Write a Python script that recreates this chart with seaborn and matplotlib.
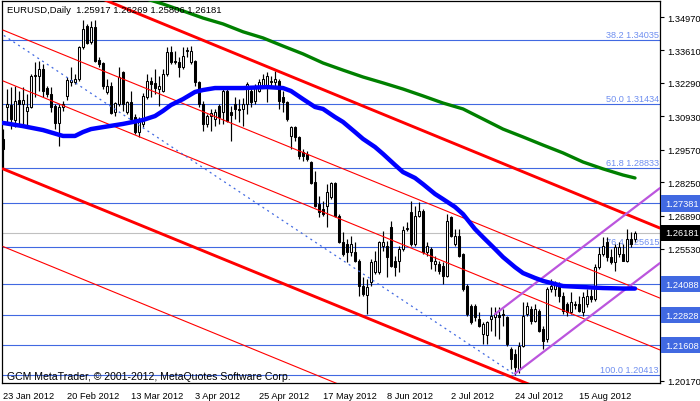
import numpy as np
import pandas as pd
import matplotlib
matplotlib.use("Agg")
import matplotlib.pyplot as plt
import matplotlib.transforms as mtransforms
import seaborn as sns

# ---------------------------------------------------------
#                 DATA
# ---------------------------------------------------------

# daily EURUSD candles, bar 0 = 23 Jan 2012
bar_open = [
    1.3001, 1.3131, 1.3139, 1.3078, 1.3159, 1.3143, 1.3115, 1.3131, 1.3257, 1.3257,
    1.3286, 1.3208, 1.3184, 1.3135, 1.3066, 1.3131, 1.3176, 1.3233, 1.3233, 1.3245,
    1.3375, 1.3460, 1.3395, 1.3456, 1.3322, 1.3310, 1.3192, 1.3216, 1.3111, 1.3143,
    1.3273, 1.3111, 1.3151, 1.3090, 1.3029, 1.3062, 1.3172, 1.3237, 1.3229, 1.3204,
    1.3196, 1.3265, 1.3355, 1.3318, 1.3314, 1.3294, 1.3359, 1.3314, 1.3318, 1.3233,
    1.3143, 1.3062, 1.3094, 1.3082, 1.3135, 1.3111, 1.3196, 1.3111, 1.3143, 1.3123,
    1.3123, 1.3143, 1.3196, 1.3155, 1.3196, 1.3216, 1.3216, 1.3233, 1.3233, 1.3237,
    1.3172, 1.3151, 1.3013, 1.3049, 1.3009, 1.2948, 1.2940, 1.2907, 1.2826, 1.2736,
    1.2716, 1.2728, 1.2765, 1.2822, 1.2687, 1.2581, 1.2573, 1.2541, 1.2541, 1.2504,
    1.2402, 1.2366, 1.2419, 1.2459, 1.2459, 1.2565, 1.2565, 1.2642, 1.2504, 1.2504,
    1.2553, 1.2634, 1.2703, 1.2573, 1.2687, 1.2708, 1.2541, 1.2553, 1.2492, 1.2492,
    1.2484, 1.2443, 1.2683, 1.2573, 1.2606, 1.2532, 1.2402, 1.2321, 1.2321, 1.2268,
    1.2207, 1.2203, 1.2268, 1.2276, 1.2284, 1.2288, 1.2276, 1.2146, 1.2126, 1.2065,
    1.2158, 1.2288, 1.2309, 1.2260, 1.2301, 1.2227, 1.2186, 1.2390, 1.2390, 1.2402,
    1.2362, 1.2329, 1.2297, 1.2329, 1.2329, 1.2297, 1.2329, 1.2362, 1.2349, 1.2479,
    1.2532, 1.2581, 1.2520, 1.2500, 1.2532, 1.2532, 1.2504, 1.2594, 1.25917,
]
bar_high = [
    1.3041, 1.3204, 1.3212, 1.3216, 1.3196, 1.3212, 1.3184, 1.3265, 1.3314, 1.3318,
    1.3306, 1.3216, 1.3212, 1.3143, 1.3143, 1.3155, 1.3253, 1.3294, 1.3265, 1.3379,
    1.3485, 1.3469, 1.3481, 1.3485, 1.3334, 1.3314, 1.3245, 1.3233, 1.3151, 1.3294,
    1.3277, 1.3155, 1.3196, 1.3102, 1.3090, 1.3188, 1.3265, 1.3253, 1.3286, 1.3257,
    1.3286, 1.3375, 1.3379, 1.3359, 1.3334, 1.3375, 1.3375, 1.3379, 1.3322, 1.3237,
    1.3155, 1.3102, 1.3123, 1.3123, 1.3143, 1.3212, 1.3204, 1.3135, 1.3172, 1.3163,
    1.3168, 1.3233, 1.3216, 1.3224, 1.3245, 1.3265, 1.3273, 1.3257, 1.3277, 1.3245,
    1.3196, 1.3155, 1.3053, 1.3053, 1.3013, 1.2960, 1.2952, 1.2910, 1.2870, 1.2769,
    1.2748, 1.2817, 1.2826, 1.2826, 1.2695, 1.2622, 1.2594, 1.2606, 1.2581, 1.2512,
    1.2439, 1.2431, 1.2512, 1.2545, 1.2585, 1.2626, 1.2585, 1.2667, 1.2524, 1.2565,
    1.2646, 1.2663, 1.2748, 1.2728, 1.2744, 1.2716, 1.2581, 1.2561, 1.2524, 1.2504,
    1.2500, 1.2695, 1.2687, 1.2634, 1.2634, 1.2536, 1.2410, 1.2329, 1.2329, 1.2297,
    1.2256, 1.2260, 1.2317, 1.2317, 1.2317, 1.2309, 1.2280, 1.2154, 1.2146, 1.2174,
    1.2337, 1.2337, 1.2321, 1.2329, 1.2309, 1.2240, 1.2398, 1.2431, 1.2423, 1.2419,
    1.2378, 1.2337, 1.2378, 1.2341, 1.2362, 1.2378, 1.2390, 1.2390, 1.2492, 1.2561,
    1.2601, 1.2601, 1.2553, 1.2573, 1.2581, 1.2573, 1.2634, 1.2622, 1.26269,
]
bar_low = [
    1.2879, 1.3062, 1.3041, 1.3049, 1.3062, 1.3062, 1.3053, 1.3127, 1.3172, 1.3196,
    1.3172, 1.3172, 1.3111, 1.3041, 1.2972, 1.3115, 1.3159, 1.3216, 1.3224, 1.3237,
    1.3367, 1.3387, 1.3387, 1.3314, 1.3294, 1.3204, 1.3184, 1.3102, 1.3094, 1.3135,
    1.3115, 1.3102, 1.3070, 1.3021, 1.3009, 1.3049, 1.3163, 1.3172, 1.3184, 1.3135,
    1.3192, 1.3257, 1.3306, 1.3306, 1.3253, 1.3286, 1.3334, 1.3306, 1.3216, 1.3131,
    1.3033, 1.3049, 1.3033, 1.3053, 1.3062, 1.3062, 1.3070, 1.2992, 1.3082, 1.3070,
    1.3053, 1.3102, 1.3131, 1.3143, 1.3192, 1.3212, 1.3151, 1.3212, 1.3216, 1.3123,
    1.3111, 1.3074, 1.2960, 1.2992, 1.2919, 1.2911, 1.2911, 1.2817, 1.2724, 1.2683,
    1.2687, 1.2642, 1.2756, 1.2683, 1.2577, 1.2524, 1.2500, 1.2524, 1.2500, 1.2362,
    1.2362, 1.2288, 1.2402, 1.2451, 1.2451, 1.2545, 1.2439, 1.2479, 1.2443, 1.2459,
    1.2545, 1.2626, 1.2565, 1.2565, 1.2683, 1.2532, 1.2524, 1.2471, 1.2463, 1.2451,
    1.2410, 1.2439, 1.2601, 1.2565, 1.2520, 1.2382, 1.2280, 1.2248, 1.2260, 1.2236,
    1.2166, 1.2166, 1.2219, 1.2199, 1.2186, 1.2240, 1.2158, 1.2065, 1.2041, 1.2050,
    1.2154, 1.2280, 1.2248, 1.2256, 1.2215, 1.2146, 1.2174, 1.2378, 1.2362, 1.2337,
    1.2288, 1.2280, 1.2288, 1.2309, 1.2297, 1.2280, 1.2317, 1.2337, 1.2341, 1.2471,
    1.2524, 1.2504, 1.2492, 1.2463, 1.2520, 1.2504, 1.2500, 1.2561, 1.25806,
]
bar_close = [
    1.2960, 1.3143, 1.3082, 1.3155, 1.3143, 1.3159, 1.3131, 1.3257, 1.3261, 1.3286,
    1.3196, 1.3184, 1.3131, 1.3066, 1.3131, 1.3143, 1.3241, 1.3241, 1.3245, 1.3375,
    1.3448, 1.3391, 1.3456, 1.3318, 1.3306, 1.3216, 1.3216, 1.3106, 1.3147, 1.3253,
    1.3143, 1.3151, 1.3082, 1.3029, 1.3070, 1.3176, 1.3237, 1.3224, 1.3208, 1.3216,
    1.3265, 1.3355, 1.3314, 1.3314, 1.3294, 1.3338, 1.3363, 1.3359, 1.3233, 1.3143,
    1.3062, 1.3094, 1.3106, 1.3111, 1.3090, 1.3196, 1.3074, 1.3098, 1.3123, 1.3119,
    1.3143, 1.3224, 1.3151, 1.3216, 1.3233, 1.3245, 1.3257, 1.3237, 1.3245, 1.3155,
    1.3151, 1.3082, 1.3049, 1.3009, 1.2931, 1.2931, 1.2919, 1.2822, 1.2728, 1.2703,
    1.2695, 1.2785, 1.2822, 1.2687, 1.2581, 1.2532, 1.2541, 1.2573, 1.2504, 1.2402,
    1.2370, 1.2398, 1.2500, 1.2504, 1.2581, 1.2581, 1.2520, 1.2484, 1.2479, 1.2553,
    1.2630, 1.2638, 1.2573, 1.2687, 1.2708, 1.2541, 1.2565, 1.2504, 1.2504, 1.2463,
    1.2443, 1.2667, 1.2606, 1.2606, 1.2524, 1.2390, 1.2288, 1.2256, 1.2276, 1.2240,
    1.2248, 1.2256, 1.2280, 1.2288, 1.2276, 1.2284, 1.2166, 1.2105, 1.2073, 1.2158,
    1.2280, 1.2321, 1.2260, 1.2309, 1.2219, 1.2178, 1.2390, 1.2402, 1.2410, 1.2362,
    1.2301, 1.2297, 1.2337, 1.2325, 1.2301, 1.2358, 1.2362, 1.2349, 1.2479, 1.2532,
    1.2565, 1.2520, 1.2500, 1.2561, 1.2561, 1.2504, 1.2594, 1.2573, 1.26181,
]

# moving averages, sampled along the bars
blue_ma_bars = [0, 5, 10, 15, 18, 20, 22, 25, 30, 35, 38, 40, 42, 45, 48, 50, 53, 60, 66,
                70, 72, 75, 78, 80, 83, 85, 88, 90, 93, 95, 98, 100, 103, 105, 108, 110,
                113, 115, 118, 120, 123, 125, 128, 130, 133, 135, 140, 145, 150, 155, 158]
blue_ma_vals = [1.3066, 1.3053, 1.3037, 1.3013, 1.3013, 1.3029, 1.3041, 1.3049, 1.3062,
                1.3078, 1.3094, 1.3115, 1.3139, 1.3163, 1.3192, 1.3200, 1.3208, 1.3208,
                1.3212, 1.3208, 1.3196, 1.3163, 1.3131, 1.3123, 1.3090, 1.3070, 1.3029,
                1.3001, 1.2968, 1.2940, 1.2895, 1.2866, 1.2842, 1.2817, 1.2777, 1.2756,
                1.2724, 1.2695, 1.2634, 1.2601, 1.2553, 1.2520, 1.2479, 1.2455, 1.2435,
                1.2423, 1.2402, 1.2398, 1.2394, 1.2392, 1.2392]
green_ma_bars = [36, 40, 45, 50, 55, 60, 65, 70, 75, 80, 85, 90, 95, 100, 105, 110, 115,
                 120, 125, 130, 135, 140, 145, 150, 155, 158]
green_ma_vals = [1.3570, 1.3550, 1.3522, 1.3493, 1.3469, 1.3437, 1.3412, 1.3379, 1.3347,
                 1.3310, 1.3281, 1.3253, 1.3229, 1.3204, 1.3176, 1.3147, 1.3123, 1.3082,
                 1.3041, 1.3009, 1.2976, 1.2944, 1.2907, 1.2879, 1.2854, 1.2842]

# drawn objects: (start bar, start price, end bar, end price)
red_thick_lines = [(0, 1.3737, 164.25, 1.2638), (0, 1.2879, 164.25, 1.1784)]
red_thin_lines = [(0, 1.3444, 164.25, 1.2353), (0, 1.3237, 164.25, 1.2142),
                  (0, 1.2563, 164.25, 1.1466)]
fib_diagonal = (-76, 1.42455, 128, 1.20413)
purple_lines = [(128, 1.2046, 164.25, 1.2496), (123, 1.2288, 164.25, 1.2801)]

fib_levels = [38.2, 50.0, 61.8, 76.4, 100.0]
fib_prices = [1.34035, 1.31434, 1.28833, 1.25615, 1.20413]
hline_prices = [1.27381, 1.24088, 1.22828, 1.21608]
last_price = 1.26181

price_ticks = [1.20170, 1.25530, 1.26890, 1.28250, 1.29570, 1.30930, 1.32290, 1.33610, 1.34970]
date_tick_bars = [0, 16, 32, 48, 64, 80, 96, 112, 128, 144]
date_tick_labels = ["23 Jan 2012", "20 Feb 2012", "13 Mar 2012", "3 Apr 2012", "25 Apr 2012",
                    "17 May 2012", "8 Jun 2012", "2 Jul 2012", "24 Jul 2012", "15 Aug 2012"]

# ---------------------------------------------------------
#                 STYLE
# ---------------------------------------------------------

sns.set_style("white")
plt.rcParams["font.family"] = ["Liberation Sans", "DejaVu Sans"]

FIB_BLUE = "#4169e1"
FIB_TEXT = "#6f8ff0"

candles = pd.DataFrame({
    "open": bar_open, "high": bar_high, "low": bar_low, "close": bar_close,
})
candles["bar"] = np.arange(len(candles))
candles["body_low"] = candles[["open", "close"]].min(axis=1)
candles["body_h"] = (candles["close"] - candles["open"]).abs().clip(lower=0.00012)
up = candles["close"] >= candles["open"]

fig = plt.figure(figsize=(7.0, 4.02), dpi=100)
ax = fig.add_axes([2 / 700, 18 / 402, 658 / 700, 382 / 402])
ax.set_xlim(-0.25, 164.25)
ax.set_ylim(1.20075, 1.35623)

# horizontal levels
for p in fib_prices + hline_prices:
    ax.axhline(p, color=FIB_BLUE, lw=0.8, zorder=1)
ax.axhline(last_price, color="#c0c0c0", lw=0.8, zorder=1)

# candles
ax.vlines(candles["bar"], candles["low"], candles["high"], color="black", lw=0.85, zorder=3)
ax.bar(candles["bar"][up], candles["body_h"][up], bottom=candles["body_low"][up],
       width=0.72, facecolor="white", edgecolor="black", linewidth=0.75, zorder=4)
ax.bar(candles["bar"][~up], candles["body_h"][~up], bottom=candles["body_low"][~up],
       width=0.72, facecolor="black", edgecolor="black", linewidth=0.75, zorder=4)

# trend channel
for x0, y0, x1, y1 in red_thick_lines:
    ax.plot([x0, x1], [y0, y1], color="#ff0000", lw=2.1, zorder=5)
for x0, y0, x1, y1 in red_thin_lines:
    ax.plot([x0, x1], [y0, y1], color="#ff0000", lw=0.8, zorder=5)
ax.plot([fib_diagonal[0], fib_diagonal[2]], [fib_diagonal[1], fib_diagonal[3]],
        color=FIB_BLUE, lw=0.9, ls=(0, (1.6, 3.0)), zorder=5)
for x0, y0, x1, y1 in purple_lines:
    ax.plot([x0, x1], [y0, y1], color="#bb55dd", lw=1.6, zorder=5)

# moving averages
sns.lineplot(x=green_ma_bars, y=green_ma_vals, ax=ax, color="#008000", linewidth=2.4, zorder=6)
sns.lineplot(x=blue_ma_bars, y=blue_ma_vals, ax=ax, color="#0000ff", linewidth=3.2, zorder=6)

# fibonacci labels
for lvl, p in zip(fib_levels, fib_prices):
    ax.text(164.0, p + 0.0004, f"{lvl:.1f} {p:.5f}", ha="right", va="bottom",
            color=FIB_TEXT, fontsize=6.6, zorder=2)

# axes
for s in ax.spines.values():
    s.set_color("black")
    s.set_linewidth(0.9)
ax.yaxis.tick_right()
ax.set_yticks(price_ticks)
ax.set_yticklabels([f"{p:.5f}" for p in price_ticks])
ax.set_xticks(date_tick_bars)
ax.set_xticklabels(date_tick_labels, ha="left")
ax.tick_params(axis="y", length=3, width=0.8, pad=2, labelsize=6.7, colors="black")
ax.tick_params(axis="x", length=4, width=0.8, pad=2, labelsize=6.7, colors="black")
ax.set_xlabel("")
ax.set_ylabel("")

# highlighted prices on the scale
blend = mtransforms.blended_transform_factory(ax.transAxes, ax.transData)
for p in hline_prices:
    ax.text(1.0075, p, f"{p:.5f}", transform=blend, ha="left", va="center", fontsize=6.7,
            color="white", bbox=dict(boxstyle="square,pad=0.38", fc=FIB_BLUE, ec="none"),
            clip_on=False)
ax.text(1.0075, last_price, f"{last_price:.5f}", transform=blend, ha="left", va="center",
        fontsize=6.7, color="white",
        bbox=dict(boxstyle="square,pad=0.38", fc="black", ec="none"), clip_on=False)

# header / footer text
ax.text(5 / 658, 1 - 4 / 382, "EURUSD,Daily  1.25917 1.26269 1.25806 1.26181",
        transform=ax.transAxes, ha="left", va="top", fontsize=6.8, color="black", zorder=7)
ax.text(5 / 658, 2 / 382, "GCM MetaTrader, \u00a9 2001-2012, MetaQuotes Software Corp.",
        transform=ax.transAxes, ha="left", va="bottom", fontsize=7.6, color="black", zorder=7)

fig.savefig("out.png", dpi=100)
